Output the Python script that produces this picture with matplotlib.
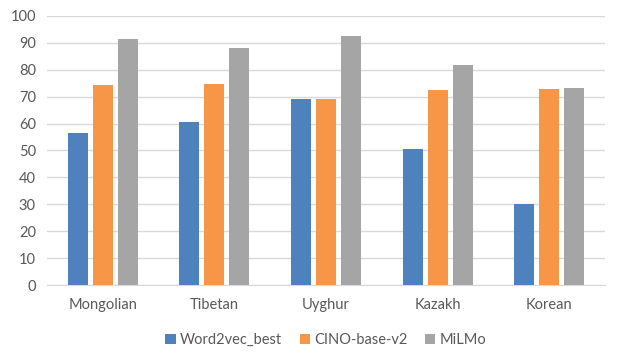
import matplotlib.pyplot as plt
import numpy as np

# data
languages = ["Mongolian", "Tibetan", "Uyghur", "Kazakh", "Korean"]
word2vec_best = [56.6, 60.6, 69.2, 50.6, 30.2]
cino_base_v2 = [74.4, 74.8, 69.2, 72.5, 72.9]
milmo = [91.5, 88.2, 92.6, 81.8, 73.3]

plt.rcParams["font.family"] = ["Lato", "DejaVu Sans"]
text_color = "#595959"

fig = plt.figure(figsize=(6.22, 3.6), dpi=100)
ax = fig.add_axes([0.0756, 0.208, 0.897, 0.748])

x = np.arange(len(languages))
w = 0.18
step = 0.224
ax.bar(x - step, word2vec_best, w, color="#4F81BD", label="Word2vec_best", zorder=3)
ax.bar(x, cino_base_v2, w, color="#F79646", label="CINO-base-v2", zorder=3)
ax.bar(x + step, milmo, w, color="#A5A5A5", label="MiLMo", zorder=3)

ax.set_xlim(-0.5, len(languages) - 0.5)
ax.set_ylim(0, 100)
ax.set_yticks(range(0, 101, 10))
ax.set_xticks(x)
ax.set_xticklabels(languages)
ax.grid(axis="y", color="#D9D9D9", linewidth=1, zorder=0)
for s in ["top", "right", "left"]:
    ax.spines[s].set_visible(False)
ax.spines["bottom"].set_color("#D9D9D9")
ax.tick_params(length=0, colors=text_color, labelsize=10.5)
ax.tick_params(axis="x", pad=9)
ax.tick_params(axis="y", pad=8)

ax.legend(loc="upper center", bbox_to_anchor=(0.5, -0.13), ncol=3, frameon=False,
          handlelength=0.7, handleheight=0.7, handletextpad=0.3, columnspacing=1.2,
          fontsize=10.5, labelcolor=text_color)

fig.savefig("out.png", dpi=100)
